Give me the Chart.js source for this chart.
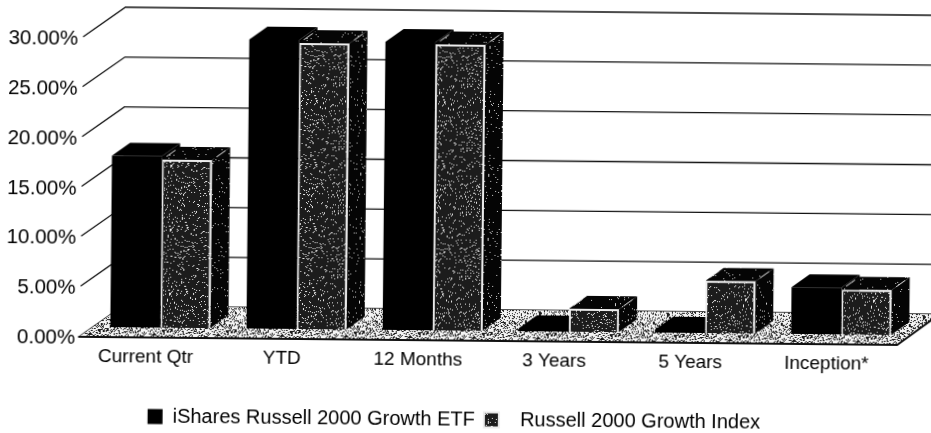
<!DOCTYPE html>
<html>
<head>
<meta charset="utf-8">
<title>iShares Russell 2000 Growth ETF</title>
<script src="https://cdn.jsdelivr.net/npm/chart.js@4"></script>
<style>
  html, body { margin: 0; padding: 0; background: #fff; overflow: hidden; width: 931px; height: 433px; }
  /* the source is a slightly crooked scan */
  #wrap { width: 960px; height: 460px; transform: rotate(0.57deg); transform-origin: 0 0; }
</style>
</head>
<body>
<div id="wrap"><canvas id="returnsChart" width="960" height="460"></canvas></div>
<script>
var categories = ['Current Qtr', 'YTD', '12 Months', '3 Years', '5 Years', 'Inception*'];
var etfReturns = [17.2, 29.0, 28.9, 0.3, 0.3, 4.7];
var indexReturns = [16.85, 28.7, 28.7, 2.3, 5.25, 4.5];
var seriesNames = ['iShares Russell 2000 Growth ETF', 'Russell 2000 Growth Index'];

// stippled fills, fixed sequence so each run looks the same
function speckle(bg, fg, density) {
  var tile = document.createElement('canvas');
  tile.width = tile.height = 64;
  var c = tile.getContext('2d');
  c.fillStyle = bg;
  c.fillRect(0, 0, 64, 64);
  c.fillStyle = fg;
  var n = 12345;
  for (var y = 0; y < 64; y++) {
    for (var x = 0; x < 64; x++) {
      n = (n * 1103515245 + 12345) % 2147483648;
      if ((n >> 8) % 1000 < density * 1000) c.fillRect(x, y, 1, 1);
    }
  }
  return c.createPattern(tile, 'repeat');
}

var ctx = document.getElementById('returnsChart').getContext('2d');
var frontFill = speckle('#1c1c1c', '#e8e8e8', 0.08);
var sideFill = speckle('#050505', '#d0d0d0', 0.03);
var floorFill = speckle('#f4f4f4', '#1c1c1c', 0.3);

var WALL_DX = 42, WALL_DY = -30;   // depth of the floor
var BAR_OX = 12, BAR_OY = -9;      // bars stand inside the floor
var BAR_DX = 18, BAR_DY = -13;     // depth of a bar

function poly(c, pts, fill) {
  c.beginPath();
  c.moveTo(pts[0][0], pts[0][1]);
  for (var i = 1; i < pts.length; i++) c.lineTo(pts[i][0], pts[i][1]);
  c.closePath();
  c.fillStyle = fill;
  c.fill();
}

var box3d = {
  id: 'box3d',
  afterLayout: function (chart) {
    // tick labels are wider than the fixed axis box, don't let them get clipped
    chart.scales.y.left = 0;
  },
  beforeDatasetsDraw: function (chart) {
    var c = chart.ctx, area = chart.chartArea, y = chart.scales.y;
    var base = y.getPixelForValue(0);

    c.save();
    // wall lines
    c.strokeStyle = '#111';
    c.lineWidth = 1.3;
    y.ticks.forEach(function (t) {
      var py = y.getPixelForValue(t.value);
      c.beginPath();
      c.moveTo(area.left, py);
      c.lineTo(area.left + WALL_DX, py + WALL_DY);
      c.lineTo(chart.width, py + WALL_DY);
      c.stroke();
    });

    // floor
    poly(c, [
      [area.left, base], [area.right, base],
      [area.right + WALL_DX, base + WALL_DY], [area.left + WALL_DX, base + WALL_DY]
    ], floorFill);
    c.lineWidth = 2;
    c.strokeStyle = '#111';
    c.beginPath();
    c.moveTo(area.left - 2, base + 1);
    c.lineTo(area.right, base + 1);
    c.lineTo(area.right + WALL_DX, base + WALL_DY);
    c.stroke();

    // tops and sides, front faces come from chart.js afterwards
    c.translate(BAR_OX, BAR_OY);
    chart.data.datasets.forEach(function (ds, di) {
      chart.getDatasetMeta(di).data.forEach(function (bar) {
        var l = bar.x - bar.width / 2, r = bar.x + bar.width / 2;
        var top = bar.y, bot = bar.base;
        var fill = di === 0 ? '#000' : sideFill;
        poly(c, [[l, top], [r, top], [r + BAR_DX, top + BAR_DY], [l + BAR_DX, top + BAR_DY]], fill);
        poly(c, [[r, top], [r + BAR_DX, top + BAR_DY], [r + BAR_DX, bot + BAR_DY], [r, bot]], fill);
        if (di === 1) {
          c.strokeStyle = '#e4e4e4';
          c.lineWidth = 1;
          [l, r].forEach(function (px) {
            c.beginPath();
            c.moveTo(px + BAR_DX * 0.25, top + BAR_DY * 0.25);
            c.lineTo(px + BAR_DX * 0.75, top + BAR_DY * 0.75);
            c.stroke();
          });
        }
      });
    });
    c.restore();

    // front faces sit on the same inset plane
    c.save();
    c.translate(BAR_OX, BAR_OY);
  },
  afterDatasetsDraw: function (chart) {
    chart.ctx.restore();
  }
};

new Chart(ctx, {
  type: 'bar',
  data: {
    labels: categories,
    datasets: [
      {
        label: seriesNames[0],
        data: etfReturns,
        backgroundColor: '#000000',
        borderWidth: 0,
        clip: false,
      },
      {
        label: seriesNames[1],
        data: indexReturns,
        backgroundColor: frontFill,
        borderColor: '#ececec',
        borderWidth: 2,
        clip: false,
      },
    ],
  },
  options: {
    responsive: false,
    animation: false,
    layout: { padding: { left: 15.5, right: 59.5, top: 36, bottom: 25 } },
    datasets: { bar: { categoryPercentage: 0.735, barPercentage: 1 } },
    plugins: {
      tooltip: { enabled: false },
      legend: {
        position: 'bottom',
        labels: {
          color: '#000',
          font: { family: '"Liberation Sans"', size: 20 },
          boxWidth: 15,
          boxHeight: 15,
          padding: 9,
          generateLabels: function (chart) {
            var items = Chart.defaults.plugins.legend.labels.generateLabels(chart);
            items[1].text = '  ' + items[1].text;
            return items;
          },
        },
      },
    },
    scales: {
      x: {
        afterFit: function (s) { s.height = 61; },
        grid: { display: false, drawTicks: false },
        border: { display: false },
        ticks: {
          color: '#000',
          font: { family: '"Liberation Sans"', size: 19 },
          padding: 9,
          labelOffset: -2.5,
          autoSkip: false,
          maxRotation: 0,
        },
      },
      y: {
        min: 0,
        max: 30,
        afterFit: function (s) { s.width = 68; },
        grid: { display: false, drawTicks: false },
        border: { display: false },
        ticks: {
          stepSize: 5,
          color: '#000',
          font: { family: '"Liberation Sans"', size: 20.5 },
          padding: 5,
          labelOffset: 2.5,
          callback: function (value) {
            return value.toFixed(2) + '%';
          },
        },
      },
    },
  },
  plugins: [box3d],
});
</script>
</body>
</html>
